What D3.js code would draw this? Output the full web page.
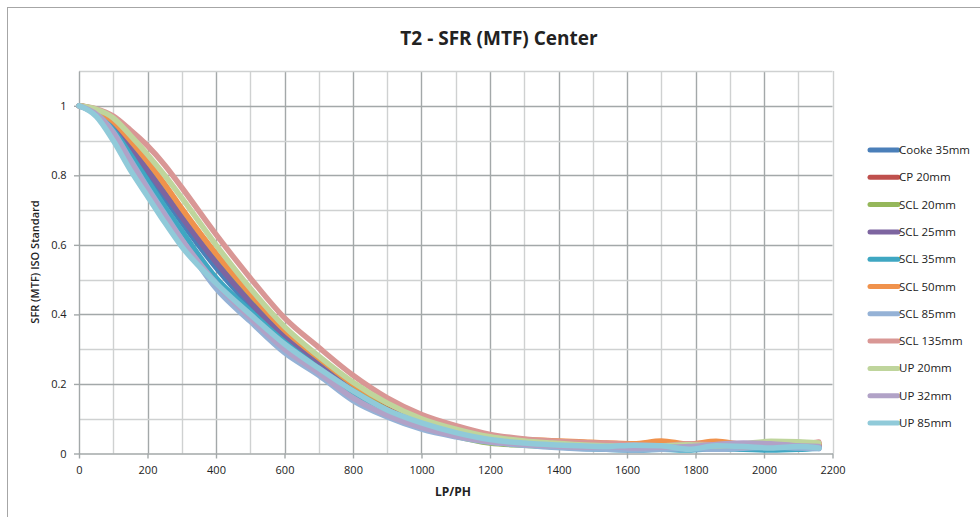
<!DOCTYPE html>
<html>
<head>
<meta charset="utf-8">
<script src="https://cdn.jsdelivr.net/npm/d3@7"></script>
<style>
  html, body { margin: 0; padding: 0; background: #fff; }
  svg { display: block; }
</style>
</head>
<body>
<svg id="chart" width="980" height="517"></svg>
<script>
// Spatial frequency samples (LP/PH) shared by every lens
const lpph = [0, 50, 100, 150, 200, 250, 300, 400, 500, 600, 700, 800, 900, 1000, 1100, 1200,
              1300, 1380, 1460, 1540, 1620, 1700, 1780, 1860, 1940, 2020, 2100, 2160];

const lensNames = ["Cooke 35mm", "CP 20mm", "SCL 20mm", "SCL 25mm", "SCL 35mm", "SCL 50mm",
                   "SCL 85mm", "SCL 135mm", "UP 20mm", "UP 32mm", "UP 85mm"];

const lensColors = ["#4a7fb9", "#bf504d", "#95b75a", "#7d65a0", "#3fa7c2", "#f0924c",
                    "#95b2d6", "#d99795", "#bfd59c", "#b1a2c7", "#90cad9"];

// SFR (MTF) values per lens, one per LP/PH sample
const cooke35 = [1, 0.984, 0.94, 0.875, 0.805, 0.735, 0.665, 0.535, 0.425, 0.33, 0.252, 0.18, 0.118, 0.08, 0.055, 0.038,
                 0.028, 0.022, 0.018, 0.015, 0.014, 0.015, 0.013, 0.016, 0.018, 0.02, 0.018, 0.02];
const cp20    = [1, 0.986, 0.948, 0.888, 0.825, 0.758, 0.69, 0.56, 0.445, 0.345, 0.265, 0.19, 0.13, 0.088, 0.06, 0.04,
                 0.03, 0.026, 0.022, 0.02, 0.018, 0.022, 0.02, 0.018, 0.022, 0.02, 0.024, 0.03];
const scl20   = [1, 0.987, 0.95, 0.89, 0.83, 0.765, 0.695, 0.565, 0.45, 0.35, 0.27, 0.19, 0.125, 0.082, 0.05, 0.03,
                 0.024, 0.02, 0.016, 0.015, 0.018, 0.02, 0.016, 0.02, 0.022, 0.024, 0.028, 0.025];
const scl25   = [1, 0.985, 0.945, 0.88, 0.815, 0.748, 0.68, 0.55, 0.435, 0.335, 0.255, 0.18, 0.122, 0.082, 0.056, 0.038,
                 0.028, 0.022, 0.02, 0.016, 0.014, 0.012, 0.018, 0.022, 0.024, 0.028, 0.025, 0.022];
const scl35   = [1, 0.98, 0.93, 0.86, 0.785, 0.71, 0.64, 0.505, 0.41, 0.32, 0.245, 0.175, 0.12, 0.08, 0.055, 0.036,
                 0.026, 0.02, 0.015, 0.012, 0.01, 0.012, 0.01, 0.014, 0.012, 0.01, 0.012, 0.015];
const scl50   = [1, 0.988, 0.955, 0.9, 0.84, 0.775, 0.705, 0.575, 0.46, 0.355, 0.275, 0.2, 0.145, 0.104, 0.075, 0.05,
                 0.04, 0.037, 0.034, 0.03, 0.028, 0.036, 0.027, 0.035, 0.026, 0.024, 0.03, 0.028];
const scl85   = [1, 0.977, 0.925, 0.845, 0.765, 0.69, 0.615, 0.475, 0.38, 0.29, 0.225, 0.152, 0.105, 0.07, 0.048, 0.032,
                 0.024, 0.018, 0.014, 0.012, 0.01, 0.012, 0.014, 0.012, 0.015, 0.018, 0.016, 0.014];
const scl135  = [1, 0.991, 0.97, 0.93, 0.885, 0.83, 0.765, 0.63, 0.505, 0.39, 0.305, 0.225, 0.16, 0.112, 0.08, 0.055,
                 0.042, 0.036, 0.032, 0.03, 0.025, 0.022, 0.028, 0.024, 0.02, 0.022, 0.025, 0.033];
const up20    = [1, 0.99, 0.965, 0.915, 0.86, 0.8, 0.735, 0.6, 0.475, 0.365, 0.28, 0.205, 0.145, 0.1, 0.07, 0.048,
                 0.036, 0.03, 0.025, 0.022, 0.02, 0.022, 0.025, 0.022, 0.028, 0.035, 0.034, 0.03];
const up32    = [1, 0.976, 0.92, 0.84, 0.76, 0.685, 0.615, 0.49, 0.39, 0.3, 0.232, 0.16, 0.11, 0.075, 0.05, 0.034,
                 0.026, 0.022, 0.018, 0.02, 0.016, 0.018, 0.02, 0.026, 0.03, 0.028, 0.022, 0.02];
const up85    = [1, 0.97, 0.9, 0.815, 0.74, 0.665, 0.595, 0.49, 0.4, 0.315, 0.245, 0.18, 0.125, 0.088, 0.06, 0.04,
                 0.03, 0.025, 0.022, 0.02, 0.024, 0.022, 0.012, 0.022, 0.02, 0.016, 0.02, 0.016];

const seriesValues = [cooke35, cp20, scl20, scl25, scl35, scl50, scl85, scl135, up20, up32, up85];

const xTicks = [0, 200, 400, 600, 800, 1000, 1200, 1400, 1600, 1800, 2000, 2200];
const yTicks = [0, 0.2, 0.4, 0.6, 0.8, 1];

const svg = d3.select("#chart");
const W = 980, H = 517;

// Chart frame
svg.append("rect")
  .attr("x", 7.5).attr("y", 7.5)
  .attr("width", W + 10).attr("height", H + 10)
  .attr("fill", "#fff").attr("stroke", "#a6a6a6").attr("stroke-width", 1);

const plot = { left: 79, right: 832.5, top: 71, bottom: 453.5 };

const x = d3.scaleLinear().domain([0, 2200]).range([plot.left, plot.right]);
const y = d3.scaleLinear().domain([0, 1.1]).range([plot.bottom, plot.top]);

// Grid: light lines every 100 LP/PH and 0.1, darker ones on labelled ticks
const g = svg.append("g");
d3.range(100, 2201, 100).forEach(v => {
  const major = v % 200 === 0 && v < 2200;
  g.append("line")
    .attr("x1", Math.round(x(v)) + 0.5).attr("x2", Math.round(x(v)) + 0.5)
    .attr("y1", plot.top).attr("y2", plot.bottom)
    .attr("stroke", major ? "#a3a8a9" : "#cfd1d1").attr("stroke-width", 1.4);
});
d3.range(1, 12).forEach(i => {
  const v = i / 10;
  const major = i % 2 === 0;
  g.append("line")
    .attr("x1", plot.left).attr("x2", plot.right)
    .attr("y1", Math.round(y(v)) + 0.5).attr("y2", Math.round(y(v)) + 0.5)
    .attr("stroke", major ? "#a3a8a9" : "#cfd1d1").attr("stroke-width", 1.4);
});

// Axes
const xAxis = d3.axisBottom(x).tickValues(xTicks).tickSize(5).tickSizeOuter(0).tickFormat(d3.format("d"));
const yAxis = d3.axisLeft(y).tickValues(yTicks).tickSize(5).tickSizeOuter(0).tickFormat(d => d === 0 || d === 1 ? d3.format("d")(d) : d3.format(".1f")(d));

const gx = svg.append("g").attr("transform", `translate(0,${plot.bottom})`).call(xAxis);
const gy = svg.append("g").attr("transform", `translate(${plot.left},0)`).call(yAxis);
[gx, gy].forEach(a => {
  a.selectAll("path").attr("stroke", "#a3a8a9").attr("stroke-width", 1.4);
  a.selectAll("line").attr("stroke", "#a3a8a9").attr("stroke-width", 1.4);
  a.selectAll("text").attr("fill", "#222").style("font-family", "'Open Sans', sans-serif").style("font-size", "11px");
});
gx.selectAll("text").attr("dy", "1.1em");
gy.selectAll("text").attr("dx", "-0.4em");

// Lens curves
const line = d3.line()
  .x((d, i) => x(lpph[i]))
  .y(d => y(d))
  .curve(d3.curveMonotoneX);

const curves = svg.append("g");
seriesValues.forEach((vals, k) => {
  curves.append("path")
    .attr("d", line(vals))
    .attr("fill", "none")
    .attr("stroke", lensColors[k])
    .attr("stroke-width", 5.5)
    .attr("stroke-linejoin", "round")
    .attr("stroke-linecap", "round");
});

// Title and axis titles
svg.append("text")
  .attr("x", 499).attr("y", 45)
  .attr("text-anchor", "middle")
  .style("font-family", "'Open Sans', sans-serif").style("font-weight", "700").style("font-size", "19px")
  .attr("fill", "#222")
  .text("T2 - SFR (MTF) Center");

svg.append("text")
  .attr("x", 453).attr("y", 496)
  .attr("text-anchor", "middle")
  .style("font-family", "'Open Sans', sans-serif").style("font-weight", "700").style("font-size", "12px")
  .attr("fill", "#222")
  .text("LP/PH");

svg.append("text")
  .attr("transform", "translate(39,262) rotate(-90)")
  .attr("text-anchor", "middle")
  .style("font-family", "'Open Sans', sans-serif").style("font-weight", "600").style("font-size", "11px")
  .attr("fill", "#222")
  .text("SFR (MTF) ISO Standard");

// Legend
const legend = svg.append("g");
lensNames.forEach((name, k) => {
  const ly = 150 + k * 27.3;
  legend.append("line")
    .attr("x1", 870).attr("x2", 898).attr("y1", ly).attr("y2", ly)
    .attr("stroke", lensColors[k]).attr("stroke-width", 5).attr("stroke-linecap", "round");
  legend.append("text")
    .attr("x", 899).attr("y", ly + 4)
    .style("font-family", "'Open Sans', sans-serif").style("font-size", "11.5px")
    .attr("fill", "#222")
    .text(name);
});
</script>
</body>
</html>
